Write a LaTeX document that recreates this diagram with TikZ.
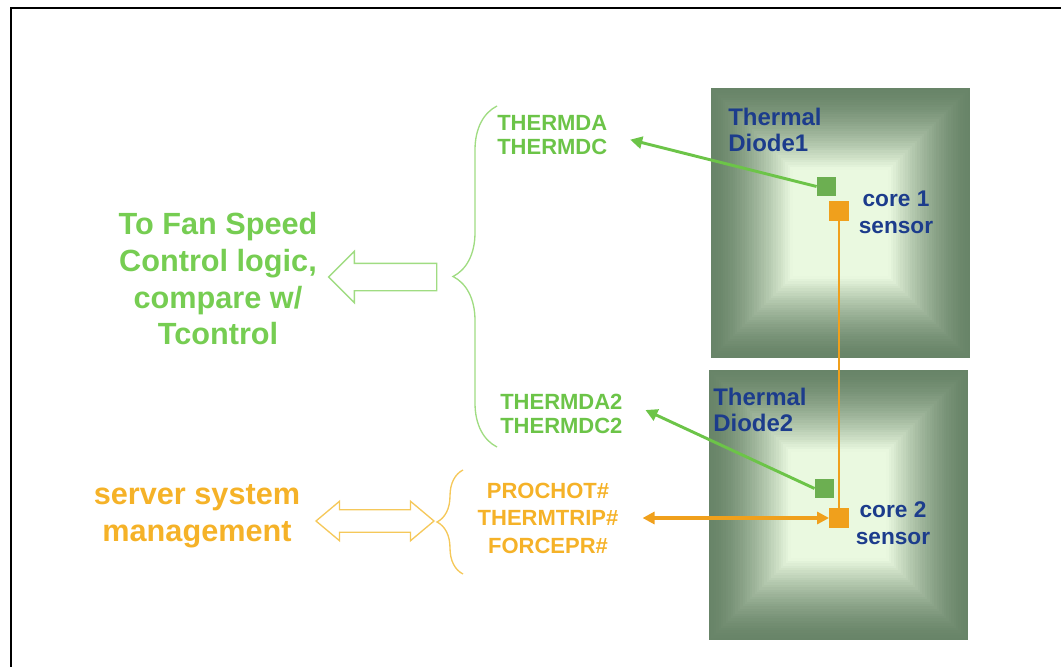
\documentclass[tikz,border=0pt]{standalone}
\usepackage{fontspec}
\setmainfont{Liberation Sans}
\usetikzlibrary{shapes.arrows, arrows.meta, decorations.pathreplacing, positioning}

\definecolor{siggreen}{RGB}{108,196,72}
\definecolor{fangreen}{RGB}{118,205,82}
\definecolor{palegreen}{RGB}{160,220,130}
\definecolor{sigorange}{RGB}{240,160,28}
\definecolor{golden}{RGB}{245,178,40}
\definecolor{paleorange}{RGB}{245,200,90}
\definecolor{diodeblue}{RGB}{28,60,140}
\definecolor{chipedge}{RGB}{104,132,104}
\definecolor{chipmid}{RGB}{234,249,224}

\tikzset{
  sigtext/.style={font=\bfseries\fontsize{16.5}{18.5}\selectfont, text=siggreen, align=left, inner sep=0pt},
  protext/.style={font=\bfseries\fontsize{16.5}{20.6}\selectfont, text=golden, align=center, inner sep=0pt},
  bigtext/.style={font=\bfseries\fontsize{23}{27.5}\selectfont, align=center, inner sep=0pt},
  diodetext/.style={font=\bfseries\fontsize{18}{19}\selectfont, text=diodeblue, align=left, inner sep=0pt},
  coretext/.style={font=\bfseries\fontsize{17}{20}\selectfont, text=diodeblue, align=center, inner sep=0pt},
  diodesq/.style={fill=siggreen!85!black!90, minimum size=14.5pt, inner sep=0pt},
  sensesq/.style={fill=sigorange, minimum size=14.5pt, inner sep=0pt},
  greenwire/.style={draw=siggreen, line width=2.2pt, -{Triangle[length=9pt,width=9pt]}},
  orangewire/.style={draw=sigorange, line width=1.8pt},
}

\begin{document}
\begin{tikzpicture}[x=0.75pt, y=-0.75pt]
  \useasboundingbox (0,0) rectangle (1061,667);

  % frame
  \draw[line width=2.2pt] (1061,8) -- (11,8) -- (11,667);

  % the two cores, shaded from the rim inwards
  \foreach \xa/\ya/\xb/\yb in {711/88/970/358, 709/370/968/640} {
    \foreach \i in {0,...,50} {
      \pgfmathsetmacro\pct{100*(min(1,1.5*\i/50))^1.5}
      \fill[chipmid!\pct!chipedge] (\xa+2.4*\i,\ya+2.4*\i) rectangle (\xb-2.4*\i,\yb-2.4*\i);
    }
  }

  % sensors on the dies
  \node[diodesq] (dioA) at (826.5,186.5) {};
  \node[sensesq] (senA) at (839,211) {};
  \node[diodesq] (dioB) at (824.5,488.5) {};
  \node[sensesq] (senB) at (839,518) {};

  % labels on the dies
  \node[diodetext, anchor=west] (tdA) at (728,130) {Thermal\\Diode1};
  \node[coretext] (coreA) at (896,212) {core 1\\sensor};
  \node[diodetext, anchor=west] (tdB) at (713,410) {Thermal\\Diode2};
  \node[coretext] (coreB) at (893,523) {core 2\\sensor};

  % pin names
  \node[sigtext, anchor=west] (thA) at (497,135) {THERMDA\\THERMDC};
  \node[sigtext, anchor=west] (thB) at (500,414) {THERMDA2\\THERMDC2};
  \node[protext] (pro) at (548,518) {PROCHOT\#\\THERMTRIP\#\\FORCEPR\#};

  % wires
  \draw[orangewire] (senA.south) -- (senB.north);
  \draw[greenwire] (dioA.west) -- ([xshift=17pt,yshift=-3.5pt]thA.east);
  \draw[greenwire] (dioB.west) -- ([xshift=17pt,yshift=3pt]thB.east);
  \draw[draw=sigorange, line width=2.6pt, {Triangle[length=9pt,width=9pt]}-{Triangle[length=9pt,width=9pt]}]
    ([xshift=18pt]pro.east) -- (senB.west);

  % braces
  \draw[palegreen, line width=1pt, decorate, decoration={brace, amplitude=33pt}]
    (497,447) -- (497,106);
  \draw[paleorange, line width=1pt, decorate, decoration={brace, amplitude=19.5pt}]
    (463,574) -- (463,470);

  % hollow arrows to the outside world
  \node[single arrow, draw=palegreen, line width=1pt, shape border rotate=180,
        minimum height=81pt, inner xsep=0pt, inner ysep=9.75pt,
        single arrow head extend=9pt] (toFan) at (389.5,277) {};
  \node[double arrow, draw=paleorange, line width=1pt,
        minimum height=88.5pt, inner xsep=0pt, inner ysep=7.9pt,
        double arrow head extend=6.4pt, double arrow tip angle=80] (toSys) at (375,521) {};

  % destinations
  \node[bigtext, text=fangreen] (fan) at (218,279) {To Fan Speed\\Control logic,\\compare w/\\Tcontrol};
  \node[bigtext, text=golden] (sys) at (197,516) {server system\\management};
\end{tikzpicture}
\end{document}
